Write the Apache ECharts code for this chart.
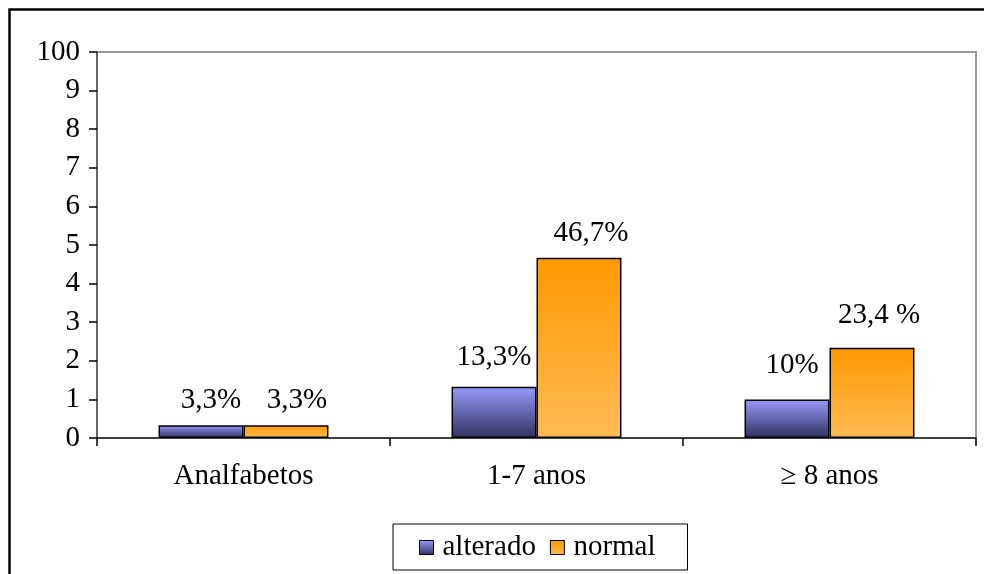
<!DOCTYPE html>
<html>
<head>
<meta charset="utf-8">
<script src="https://cdn.jsdelivr.net/npm/echarts@6/dist/echarts.min.js"></script>
<style>
  html, body { margin: 0; padding: 0; background: #fff; }
  #chart { width: 984px; height: 574px; }
</style>
</head>
<body>
<div id="chart"></div>
<script>
// Escolaridade x resultado do teste
const categories = ['Analfabetos', '1-7 anos', '\u2265 8 anos'];
const seriesNames = ['alterado', 'normal'];
const alteradoValues = [0.33, 1.33, 1.0];
const normalValues = [0.33, 4.67, 2.34];
const alteradoLabels = ['3,3%', '13,3%', '10%'];
const normalLabels = ['3,3%', '46,7%', '23,4 %'];
const yTickLabels = ['0', '1', '2', '3', '4', '5', '6', '7', '8', '9', '100'];

const FONT = '"Liberation Serif", "DejaVu Serif", serif';
const FS = 29;

// small per-bar nudges for the value labels
const alteradoLabelTweak = [
  { distance: 10, offset: [10, 0] },
  { distance: 15, offset: [0, 0] },
  { distance: 20, offset: [5, 0] }
];
const normalLabelTweak = [
  { distance: 10, offset: [11, 0] },
  { distance: 10, offset: [12, 0] },
  { distance: 18, offset: [7, 0] }
];

const blueFill = new echarts.graphic.LinearGradient(0, 0, 0, 1, [
  { offset: 0, color: '#9a9aff' },
  { offset: 1, color: '#30305e' }
]);
const orangeFill = new echarts.graphic.LinearGradient(0, 0, 0, 1, [
  { offset: 0, color: '#ff9900' },
  { offset: 1, color: '#ffbb55' }
]);

function buildData(values, labels, tweaks) {
  return values.map((v, i) => ({
    value: v,
    label: { formatter: labels[i], distance: tweaks[i].distance, offset: tweaks[i].offset }
  }));
}

const chart = echarts.init(document.getElementById('chart'), null, { renderer: 'canvas' });

chart.setOption({
  animation: false,
  backgroundColor: '#ffffff',
  textStyle: { fontFamily: FONT },
  graphic: [{
    type: 'rect',
    shape: { x: 9.5, y: 9.5, width: 1000, height: 600 },
    style: { fill: 'none', stroke: '#000', lineWidth: 2.5 },
    silent: true
  }],
  grid: {
    left: 97, top: 52, right: 8, bottom: 136,
    show: true, borderColor: '#999', borderWidth: 2, backgroundColor: 'transparent'
  },
  legend: {
    data: seriesNames,
    left: 393, top: 524,
    orient: 'horizontal',
    icon: 'rect',
    itemWidth: 14, itemHeight: 14,
    itemGap: 14,
    padding: [9, 32, 8, 26],
    borderColor: '#000', borderWidth: 1,
    textStyle: { fontFamily: FONT, fontSize: FS, color: '#000', padding: [0, 0, 0, 4] },
    itemStyle: { borderColor: '#000', borderWidth: 1 }
  },
  xAxis: {
    type: 'category',
    data: categories,
    axisLine: { lineStyle: { color: '#222', width: 1.5 } },
    axisTick: { show: true, alignWithLabel: false, length: 8, lineStyle: { color: '#000', width: 1.5 } },
    axisLabel: { fontFamily: FONT, fontSize: FS, color: '#000', margin: 24 },
    splitLine: { show: false }
  },
  yAxis: {
    type: 'value',
    min: 0, max: 10, interval: 1,
    axisLine: { show: true, lineStyle: { color: '#555', width: 1.5 } },
    axisTick: { show: true, length: 8, lineStyle: { color: '#000', width: 1.5 } },
    axisLabel: {
      fontFamily: FONT, fontSize: FS, color: '#000', margin: 17,
      formatter: (v) => yTickLabels[Math.round(v)]
    },
    splitLine: { show: false }
  },
  series: [
    {
      name: seriesNames[0],
      type: 'bar',
      barGap: '0%',
      barCategoryGap: '42%',
      data: buildData(alteradoValues, alteradoLabels, alteradoLabelTweak),
      itemStyle: { color: blueFill, borderColor: '#000', borderWidth: 1.5 },
      label: { show: true, position: 'top', fontFamily: FONT, fontSize: FS, color: '#000' }
    },
    {
      name: seriesNames[1],
      type: 'bar',
      barGap: '0%',
      barCategoryGap: '42%',
      data: buildData(normalValues, normalLabels, normalLabelTweak),
      itemStyle: { color: orangeFill, borderColor: '#000', borderWidth: 1.5 },
      label: { show: true, position: 'top', fontFamily: FONT, fontSize: FS, color: '#000' }
    }
  ]
});
</script>
</body>
</html>
